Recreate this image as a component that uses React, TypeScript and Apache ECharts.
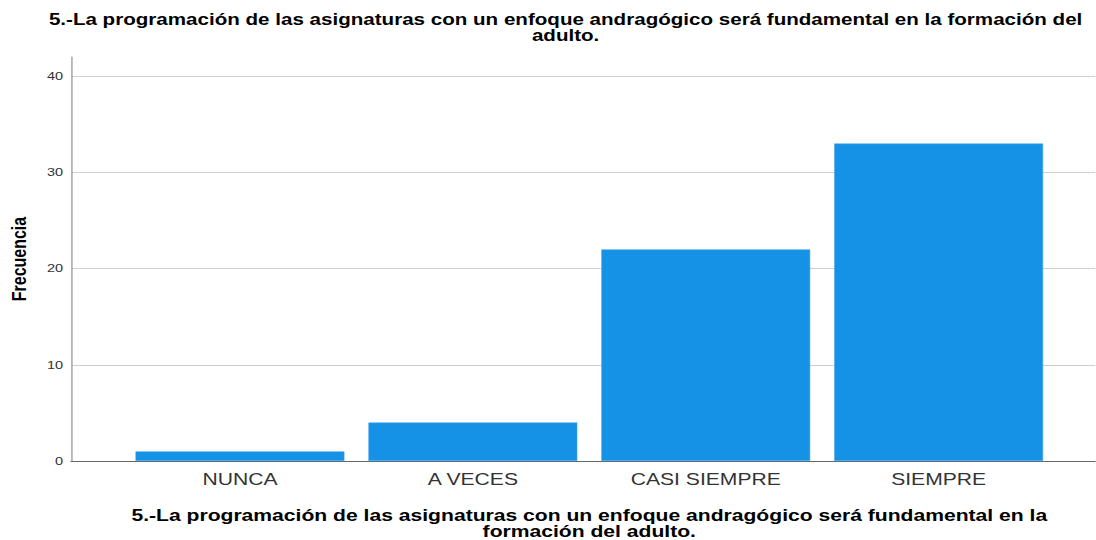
import React, { useEffect, useRef } from "react";
import * as echarts from "echarts";

const titleText =
  "5.-La programación de las asignaturas con un enfoque andragógico será fundamental en la formación del\nadulto.";
const xAxisTitle =
  "5.-La programación de las asignaturas con un enfoque andragógico será fundamental en la\nformación del adulto.";
const yAxisTitle = "Frecuencia";
const categories = ["NUNCA", "A VECES", "CASI SIEMPRE", "SIEMPRE"];
const frequencies = [1, 4, 22, 33];

// the reference is horizontally stretched; lay out narrower and stretch
const STRETCH = 1.32;
const W = 1096 / STRETCH;
const H = 540;

export default function App() {
  const ref = useRef<HTMLDivElement>(null);
  useEffect(() => {
    if (!ref.current) return;
    const chart = echarts.init(ref.current, undefined, { renderer: "svg" });
    const top = 57;
    const bottom = 79;
    const font = "'Liberation Sans', Arial, sans-serif";
    chart.setOption({
      animation: false,
      backgroundColor: "#ffffff",
      title: {
        text: titleText,
        left: 559 / STRETCH,
        top: 6,
        textAlign: "center",
        textStyle: {
          fontFamily: font,
          fontWeight: "bold",
          fontSize: 15.6,
          lineHeight: 16,
          color: "#000",
        },
      },
      grid: [
        { left: 71 / STRETCH, right: 0, top, bottom, outerBoundsMode: "none", containLabel: false },
        {
          left: 123.5 / STRETCH,
          right: 40.5 / STRETCH,
          top,
          bottom,
          outerBoundsMode: "none",
          containLabel: false,
        },
      ],
      xAxis: [
        {
          type: "value",
          gridIndex: 0,
          min: 0,
          max: 1,
          axisLine: { show: true, onZero: false, lineStyle: { color: "#666", width: 1 } },
          axisTick: { show: false },
          axisLabel: { show: false },
          splitLine: { show: false },
        },
        {
          type: "category",
          gridIndex: 1,
          data: categories,
          axisLine: { show: false },
          axisTick: { show: false },
          axisLabel: {
            margin: 10,
            fontFamily: font,
            fontSize: 16,
            color: "#333",
          },
          name: xAxisTitle,
          nameLocation: "middle",
          nameGap: 46,
          nameTextStyle: {
            fontFamily: font,
            fontWeight: "bold",
            fontSize: 16,
            lineHeight: 16,
            color: "#000",
          },
        },
      ],
      yAxis: [
        {
          type: "value",
          gridIndex: 0,
          min: 0,
          max: 42,
          interval: 10,
          axisLine: { show: true, lineStyle: { color: "#999", width: 1 } },
          axisTick: { show: false },
          axisLabel: {
            showMaxLabel: false,
            margin: 6,
            fontFamily: font,
            fontSize: 11,
            color: "#333",
            formatter: (v: number) => (v % 10 === 0 ? String(v) : ""),
          },
          splitLine: {
            show: true,
            showMaxLine: false,
            showMinLine: false,
            lineStyle: { color: "#cfcfcf", width: 1 },
          },
          name: yAxisTitle,
          nameLocation: "middle",
          nameGap: 32,
          nameRotate: 90,
          nameTextStyle: {
            fontFamily: font,
            fontWeight: "bold",
            fontSize: 16,
            color: "#000",
          },
        },
        {
          type: "value",
          gridIndex: 1,
          min: 0,
          max: 42,
          interval: 10,
          show: false,
          splitLine: { show: false },
        },
      ],
      series: [
        {
          type: "bar",
          xAxisIndex: 1,
          yAxisIndex: 1,
          data: frequencies,
          barWidth: 209 / STRETCH,
          z: 3,
          itemStyle: { color: "#1591e6", borderColor: "#4aa8ee", borderWidth: 0.5 },
        },
      ],
    });
    return () => chart.dispose();
  }, []);
  return (
    <div
      ref={ref}
      style={{
        position: "fixed",
        left: 0,
        top: 0,
        width: W,
        height: H,
        transform: `scaleX(${STRETCH})`,
        transformOrigin: "0 0",
      }}
    />
  );
}
